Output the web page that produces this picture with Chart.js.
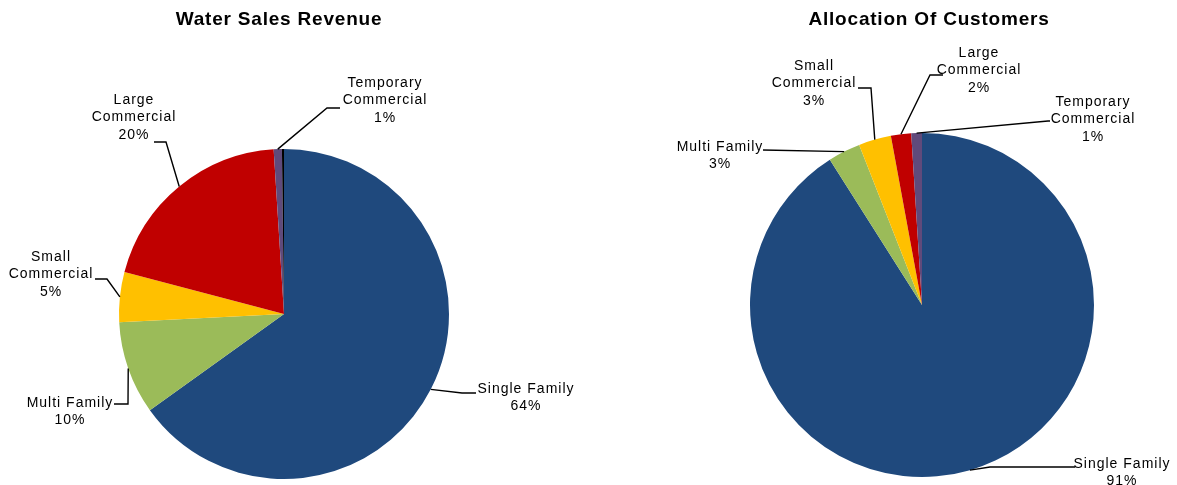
<!DOCTYPE html>
<html>
<head>
<meta charset="utf-8">
<script src="https://cdn.jsdelivr.net/npm/chart.js@4.4.1/dist/chart.umd.min.js"></script>
<style>
  body { margin: 0; background: #fff; width: 1177px; height: 485px; overflow: hidden; position: relative; }
  canvas { position: absolute; top: 0; }
  #revenue { left: 0; }
  #customers { left: 580px; }
</style>
</head>
<body>
<canvas id="revenue" width="580" height="485"></canvas>
<canvas id="customers" width="597" height="485"></canvas>
<script>
// Datos de las dos tortas
const categories = ['Single Family', 'Multi Family', 'Small Commercial', 'Large Commercial', 'Temporary Commercial'];
const colors = ['#1F497D', '#9BBB59', '#FFC000', '#C00000', '#604A7B'];

// ingresos: el ultimo valor es la franja negra sin etiqueta
const revenueValues = [65.1, 9.1, 4.9, 19.9, 0.8, 0.2];
const revenueLabels = ['64%', '10%', '5%', '20%', '1%'];

const customerValues = [91.0, 3.05, 3.05, 1.9, 1.0];
const customerLabels = ['91%', '3%', '3%', '2%', '1%'];

// Posicion de las etiquetas, relativa al centro de la torta
const revenueSpots = [
    { tx: 242, ty: 75, path: [[178, 79], [192, 79]] },
    { tx: -214, ty: 89, path: [[-156, 90], [-170, 90]] },
    { tx: -233, ty: -57, wrap: true, path: [[-177, -35], [-189, -35]] },
    { tx: -150, ty: -214, wrap: true, path: [[-118, -172], [-130, -172]] },
    { tx: 101, ty: -231, wrap: true, path: [[43, -206], [56, -206]] }
];
const customerSpots = [
    { tx: 200, ty: 159, path: [[68, 162], [153, 162]] },
    { tx: -202, ty: -158, path: [[-159, -155]] },
    { tx: -108, ty: -239, wrap: true, path: [[-51, -217], [-64, -217]] },
    { tx: 57, ty: -252, wrap: true, path: [[8, -230], [21, -230]] },
    { tx: 171, ty: -203, wrap: true, path: [[126, -184], [128, -184]] }
];

// config extra de cada torta (fuera de las opciones para que Chart.js no la toque)
const extras = {
    revenue: { title: 'Water Sales Revenue', titleX: 279, titleY: 20, spots: revenueSpots, pct: revenueLabels },
    customers: { title: 'Allocation Of Customers', titleX: 349, titleY: 20, spots: customerSpots, pct: customerLabels }
};

// Plugin para titulo, etiquetas y lineas guia
const pieLabels = {
    id: 'pieLabels',
    afterDraw(chart) {
        const opts = extras[chart.canvas.id];
        const ctx = chart.ctx;
        const arcs = chart.getDatasetMeta(0).data;
        ctx.save();
        ctx.fillStyle = '#000';
        ctx.textAlign = 'center';
        ctx.textBaseline = 'middle';
        ctx.font = 'bold 19px "Liberation Sans", Arial, sans-serif';
        ctx.letterSpacing = '0.8px';
        ctx.fillText(opts.title, opts.titleX, opts.titleY);

        ctx.font = '14px "Liberation Sans", Arial, sans-serif';
        ctx.letterSpacing = '1px';
        ctx.strokeStyle = '#000';
        ctx.lineWidth = 1.4;
        opts.spots.forEach((s, i) => {
            const arc = arcs[i];
            const mid = (arc.startAngle + arc.endAngle) / 2;
            const r = arc.outerRadius;
            ctx.beginPath();
            ctx.moveTo(arc.x + Math.cos(mid) * r, arc.y + Math.sin(mid) * r);
            s.path.forEach(p => ctx.lineTo(arc.x + p[0], arc.y + p[1]));
            ctx.stroke();
            const name = chart.data.labels[i];
            const lines = (s.wrap ? name.split(' ') : [name]).concat(opts.pct[i]);
            lines.forEach((t, k) => ctx.fillText(t, arc.x + s.tx, arc.y + s.ty + k * 17.5));
        });
        ctx.restore();
    }
};

function crearTorta(id, labels, values, bg, padding) {
    return new Chart(document.getElementById(id), {
        type: 'pie',
        data: {
            labels: labels,
            datasets: [{
                data: values,
                backgroundColor: bg,
                borderWidth: 0
            }]
        },
        options: {
            responsive: false,
            animation: false,
            layout: { padding: padding },
            plugins: {
                legend: { display: false },
                tooltip: { enabled: false }
            }
        },
        plugins: [pieLabels]
    });
}

crearTorta('revenue', [...categories, ''], revenueValues, [...colors, '#000000'],
    { left: 119, right: 131, top: 149, bottom: 6 });

crearTorta('customers', categories, customerValues, colors,
    { left: 170, right: 83, top: 133, bottom: 8 });
</script>
</body>
</html>
